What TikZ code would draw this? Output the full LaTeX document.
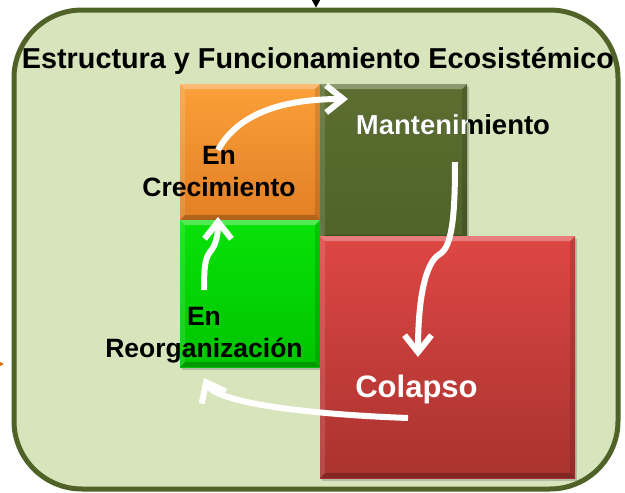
\documentclass[tikz,border=0pt]{standalone}
\usepackage{fontspec}
\setmainfont{Liberation Sans}
\usetikzlibrary{arrows.meta,shadows}

\definecolor{fondo}{HTML}{D8E4BC}
\definecolor{borde}{HTML}{4F6228}
\definecolor{crecA}{HTML}{FBA03A}
\definecolor{crecB}{HTML}{E27F24}
\definecolor{mantA}{HTML}{5C6E30}
\definecolor{mantB}{HTML}{4F6228}
\definecolor{reorgA}{HTML}{08E208}
\definecolor{reorgB}{HTML}{00C400}
\definecolor{colapA}{HTML}{DE4744}
\definecolor{colapB}{HTML}{A9322F}
\definecolor{flecha}{HTML}{E46C0A}

\newcommand{\bevel}{%
  \fill[white,opacity=.3] (path picture bounding box.north west) -- (path picture bounding box.north east)
    -- ([shift={(-5pt,-5pt)}]path picture bounding box.north east) -- ([shift={(5pt,-5pt)}]path picture bounding box.north west) -- cycle;
  \fill[white,opacity=.12] (path picture bounding box.north west) -- ([shift={(5pt,-5pt)}]path picture bounding box.north west)
    -- ([shift={(5pt,5pt)}]path picture bounding box.south west) -- (path picture bounding box.south west) -- cycle;
  \fill[black,opacity=.12] (path picture bounding box.north east) -- ([shift={(-5pt,-5pt)}]path picture bounding box.north east)
    -- ([shift={(-5pt,5pt)}]path picture bounding box.south east) -- (path picture bounding box.south east) -- cycle;
  \fill[black,opacity=.22] (path picture bounding box.south west) -- ([shift={(5pt,5pt)}]path picture bounding box.south west)
    -- ([shift={(-5pt,5pt)}]path picture bounding box.south east) -- (path picture bounding box.south east) -- cycle;}

\begin{document}
\begin{tikzpicture}[x=1pt,y=-1pt]
\tikzstyle{tile}=[inner sep=0, drop shadow={shadow xshift=2pt,shadow yshift=-3pt,opacity=.4}, path picture=\bevel]
\tikzstyle{lbl}=[inner sep=0, font=\bfseries\fontsize{26.5}{32}\selectfont, align=center]
\tikzstyle{ciclo}=[white, line width=6pt, -{Straight Barb[length=17pt,width=27pt]}]

\useasboundingbox (0,0) rectangle (625,493);

  \node[draw=borde, line width=5pt, fill=fondo, rounded corners=68pt, minimum width=604, minimum height=479, inner sep=0] (eco) at (316,249.5) {};
  \node[anchor=base, inner sep=0, font=\bfseries\fontsize{28.8}{34}\selectfont] (titulo) at (318,68) {Estructura y Funcionamiento Ecosistémico};

\foreach \n/\x/\y/\w/\h in {crec/250/152/140/136, mant/393.5/162/147/156, reorg/250/293.5/140/147, colap/447.5/357/255/242}
  \node[tile, minimum width=\w, minimum height=\h, top color=\n A, bottom color=\n B] (\n) at (\x,\y) {};

  \node[lbl] (tcrec) at (219,172) {En\\Crecimiento};
  \node[lbl] (treorg) at (204,335) {En\\Reorganización};
  \node[lbl, anchor=base, font=\bfseries\fontsize{27.5}{33}\selectfont] (tmant) at (453,134) {Mantenimiento};
  \begin{scope}
    \clip (mant.north west) rectangle (mant.south east);
    \node[lbl, anchor=base, white, font=\bfseries\fontsize{27.5}{33}\selectfont] at (453,134) {Mantenimiento};
  \end{scope}
  \node[lbl, anchor=base, white, font=\bfseries\fontsize{31}{37}\selectfont] (tcolap) at (416.5,397) {Colapso};

  \coordinate (c1) at (218,150);  \coordinate (m1) at (348,99);
  \coordinate (m2) at (455,162);  \coordinate (k2) at (440,254);  \coordinate (c2) at (418,357);
  \coordinate (c3) at (408,418);  \coordinate (r3) at (204,378);
  \coordinate (r4) at (204,290);  \coordinate (k4) at (210,252);  \coordinate (e4) at (218,217);

\draw[ciclo] (c1) .. controls (240,110) and (290,99) .. (m1);
\draw[ciclo] (m2) .. controls (455,210) and (453,246) .. (k2) .. controls (425,262) and (418,300) .. (c2);
\draw[ciclo] (c3) .. controls (300,414) and (216,402) .. (r3);
\draw[ciclo] (r4) .. controls (204,268) and (205,258) .. (k4) .. controls (216,245) and (218,235) .. (e4);

  \coordinate (arriba) at (316,-40);
  \coordinate (izq) at (-40,364);  \coordinate (izqfin) at (4,364);
\draw[-{Triangle[length=10pt,width=11pt]}, line width=1pt] (arriba) -- (eco.north);
\draw[-{Triangle[length=8pt,width=8pt]}, flecha, line width=1pt] (izq) -- (izqfin);

\end{tikzpicture}
\end{document}
